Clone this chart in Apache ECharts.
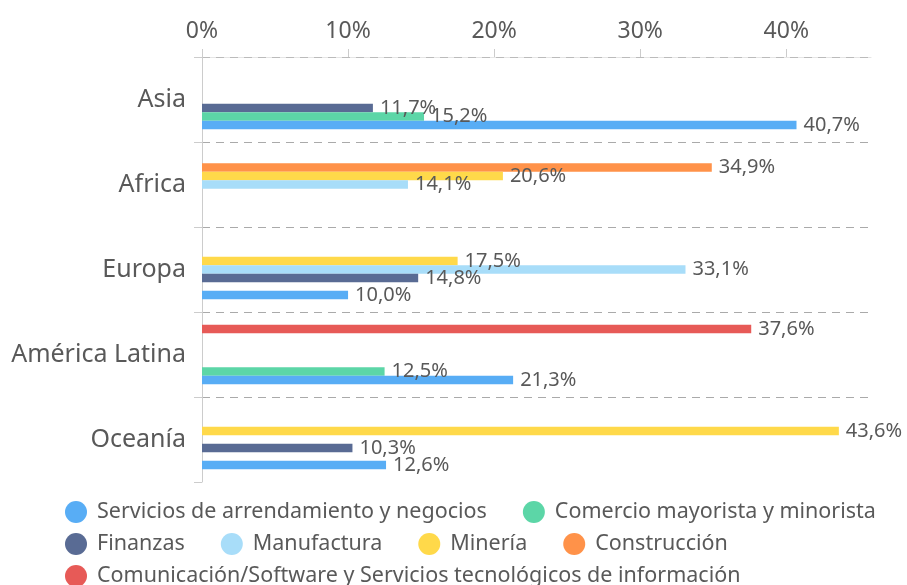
<!DOCTYPE html>
<html>
<head>
<meta charset="utf-8">
<script src="https://cdn.jsdelivr.net/npm/echarts@6/dist/echarts.min.js"></script>
<style>
  html, body { margin: 0; padding: 0; background: #fff; }
  #chart { width: 907px; height: 585px; }
</style>
</head>
<body>
<div id="chart"></div>
<script>
  // regions, top to bottom
  var regions = ['Asia', 'Africa', 'Europa', 'América Latina', 'Oceanía'];
  var xTicks = [0, 10, 20, 30, 40];

  var sectorNames = [
    'Servicios de arrendamiento y negocios',
    'Comercio mayorista y minorista',
    'Finanzas',
    'Manufactura',
    'Minería',
    'Construcción',
    'Comunicación/Software y Servicios tecnológicos de información'
  ];
  var sectorColors = ['#58adf5', '#5cd6a7', '#596b94', '#a8ddf9', '#ffd94a', '#ff9249', '#e75a57'];

  // % per region (null = not shown)
  var servicios    = [40.7, null, 10.0, 21.3, 12.6];
  var comercio     = [15.2, null, null, 12.5, null];
  var finanzas     = [11.7, null, 14.8, null, 10.3];
  var manufactura  = [null, 14.1, 33.1, null, null];
  var mineria      = [null, 20.6, 17.5, null, 43.6];
  var construccion = [null, 34.9, null, null, null];
  var comunicacion = [null, null, null, 37.6, null];

  var sectorValues = [servicios, comercio, finanzas, manufactura, mineria, construccion, comunicacion];

  // legend rows as in the original
  var legendRows = [sectorNames.slice(0, 2), sectorNames.slice(2, 6), sectorNames.slice(6)];
  var legendTops = [496, 528, 560];

  var textColor = '#595959';
  var font = 'Noto Sans';

  var series = sectorNames.map(function (name, i) {
    return {
      name: name,
      type: 'bar',
      barGap: '0%',
      barCategoryGap: '30%',
      itemStyle: { color: sectorColors[i] },
      label: {
        show: true,
        position: 'right',
        distance: 7,
        color: textColor,
        fontSize: 20,
        fontFamily: font,
        formatter: function (p) {
          return p.value.toFixed(1).replace('.', ',') + '%';
        }
      },
      data: sectorValues[i]
    };
  }).reverse(); // first sector sits at the bottom of each band

  var legends = legendRows.map(function (row, i) {
    return {
      data: row,
      left: 60,
      top: legendTops[i],
      icon: 'circle',
      itemWidth: 22,
      itemHeight: 22,
      itemGap: 36,
      textStyle: { color: textColor, fontSize: 21.5, fontFamily: font, padding: [0, 0, 0, 5] }
    };
  });

  var chart = echarts.init(document.getElementById('chart'));
  chart.setOption({
    animation: false,
    grid: {
      left: 202,
      right: 36,
      top: 57,
      bottom: 103,
      containLabel: false,
      outerBoundsMode: 'none'
    },
    legend: legends,
    xAxis: {
      type: 'value',
      position: 'top',
      min: 0,
      max: 45.8,
      interval: 10,
      axisLine: { show: true, lineStyle: { color: '#cccccc', opacity: 0.5 } },
      axisTick: { show: true, length: 8, customValues: xTicks, lineStyle: { color: '#cccccc' } },
      axisLabel: {
        customValues: xTicks,
        formatter: '{value}%',
        color: textColor,
        fontSize: 23,
        fontFamily: font,
        margin: 14
      },
      splitLine: { show: false }
    },
    yAxis: {
      type: 'category',
      inverse: true,
      data: regions,
      axisLine: { show: true, lineStyle: { color: '#cccccc' } },
      axisTick: { show: true, length: 8, lineStyle: { color: '#cccccc' } },
      axisLabel: {
        color: textColor,
        fontSize: 25,
        fontFamily: font,
        margin: 16
      },
      splitLine: {
        show: true,
        showMaxLine: false,
        lineStyle: { color: '#aaaaaa', type: [8, 6], width: 1 }
      }
    },
    series: series
  });
</script>
</body>
</html>
